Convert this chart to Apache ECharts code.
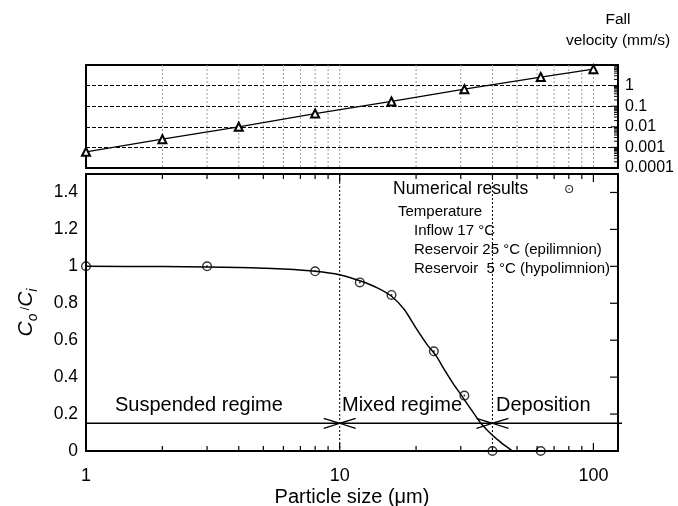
<!DOCTYPE html>
<html>
<head>
<meta charset="utf-8">
<script src="https://cdn.jsdelivr.net/npm/echarts@6/dist/echarts.min.js"></script>
<style>
html, body { margin: 0; padding: 0; background: #fff; }
#chart { width: 678px; height: 506px; }
</style>
</head>
<body>
<div id="chart"></div>
<script>
// Upper panel: fall velocity (mm/s) against particle size (µm)
const velocitySizes = [1, 2, 4, 8, 16, 31, 62, 100];
const fallVelocity = [0.00061, 0.0025, 0.01, 0.044, 0.17, 0.67, 2.6, 6.3];

// Lower panel: fitted outflow/inflow concentration ratio
const curveSizes = [1, 2, 3, 4, 5, 6, 8, 10, 12, 14, 16, 18, 20, 22, 24, 26, 28, 30, 32, 34, 36, 38, 40, 42, 44, 46, 48];
const curveRatio = [1.0, 0.999, 0.997, 0.994, 0.99, 0.986, 0.974, 0.955, 0.922, 0.885, 0.838, 0.765, 0.665, 0.58, 0.515, 0.435, 0.365, 0.307, 0.25, 0.198, 0.15, 0.115, 0.085, 0.06, 0.037, 0.018, 0.0];

// Numerical results
const resultSizes = [1, 3, 8, 12, 16, 23.5, 31, 40, 62];
const resultRatio = [1.0, 1.0, 0.973, 0.913, 0.845, 0.54, 0.30, 0.0, 0.0];

// Regime boundaries (µm) and the level of the regime arrows
const regimeBounds = [10, 40];
const arrowLevel = 0.15;

// Tick positions
const sizeTicks = [2, 3, 4, 5, 6, 7, 8, 9, 10, 20, 30, 40, 50, 60, 70, 80, 90, 100];
const ratioTicks = [0.2, 0.4, 0.6, 0.8, 1.0, 1.2, 1.4];
const velocityDecades = [0.0001, 0.001, 0.01, 0.1, 1];
const velocityMantissas = [1, 2, 3, 4, 5, 6, 7, 8, 9];

const FONT = "'Liberation Sans', Arial, Helvetica, sans-serif";
const ringSymbol = 'path://M50,0 A50,50 0 1,1 50,100 A50,50 0 1,1 50,0 Z M50,14 A36,36 0 1,0 50,86 A36,36 0 1,0 50,14 Z M50,40 A10,10 0 1,1 50,60 A10,10 0 1,1 50,40 Z';

const zip = (a, b) => a.map((v, i) => [v, b[i]]);
const isDecade = v => { const l = Math.log10(v); return Math.abs(l - Math.round(l)) < 1e-6; };

const velocityTicks = [];
velocityDecades.forEach(d => velocityMantissas.forEach(m => {
  const v = d * m;
  if (v > 0.0001 && v < 10) velocityTicks.push(v);
}));

function sizeLabel(v) {
  return isDecade(v) ? String(Math.round(v)) : '';
}
function velocityLabel(v) {
  if (!isDecade(v)) return '';
  const e = Math.round(Math.log10(v));
  if (e > 0) return '';
  return e === 0 ? '1' : Math.pow(10, e).toFixed(-e);
}
function ratioLabel(v) {
  if (Math.abs(v * 5 - Math.round(v * 5)) > 1e-6) return '';
  return String(Math.round(v * 10) / 10);
}

const line = (x1, y1, x2, y2, style) => ({ type: 'line', shape: { x1, y1, x2, y2 }, style: Object.assign({ stroke: '#000', lineWidth: 1 }, style) });

// Vertical dashed grid of the upper panel
function topGridRender(params, api) {
  const cs = params.coordSys;
  const x = api.coord([api.value(0), 1])[0];
  return line(x, cs.y, x, cs.y + cs.height, { stroke: '#9a9a9a', lineDash: [2, 2] });
}
// Log minor/major ticks along the right edge of the upper panel
function velocityTickRender(params, api) {
  const cs = params.coordSys;
  const v = api.value(1);
  const y = api.coord([1, v])[1];
  const len = isDecade(v) ? 7 : 4;
  const xr = cs.x + cs.width;
  return line(xr, y, xr - len, y, { lineWidth: 1 });
}
// Size ticks along bottom and top of the lower panel
function sizeTickRender(params, api) {
  const cs = params.coordSys;
  const v = api.value(0);
  const x = api.coord([v, 0.5])[0];
  const len = isDecade(v) ? 8 : 5;
  const yb = cs.y + cs.height, yt = cs.y;
  return { type: 'group', children: [
    line(x, yb, x, yb - len, { lineWidth: 1.2 }),
    line(x, yt, x, yt + len, { lineWidth: 1.2 })
  ] };
}
// Ratio ticks along the right edge of the lower panel
function ratioTickRender(params, api) {
  const cs = params.coordSys;
  const y = api.coord([1, api.value(1)])[1];
  const xr = cs.x + cs.width;
  return line(xr, y, xr - 8, y, { lineWidth: 1.2 });
}
// Dotted regime boundaries
function boundRender(params, api) {
  const cs = params.coordSys;
  const x = api.coord([api.value(0), 0.5])[0];
  return line(x, cs.y, x, cs.y + cs.height, { lineDash: [2, 2], lineWidth: 1 });
}
// Regime arrows meeting at each boundary
function arrowRender(params, api) {
  const cs = params.coordSys;
  const p = api.coord([api.value(0), api.value(1)]);
  const children = [];
  if (params.dataIndex === 0) {
    children.push(line(cs.x, p[1], cs.x + cs.width + 4, p[1], { lineWidth: 1.6 }));
  }
  const L = 16, H = 5;
  children.push({ type: 'polyline', shape: { points: [[p[0] - L, p[1] - H], [p[0], p[1]], [p[0] - L, p[1] + H]] }, style: { stroke: '#000', fill: null, lineWidth: 1.3 } });
  children.push({ type: 'polyline', shape: { points: [[p[0] + L, p[1] - H], [p[0], p[1]], [p[0] + L, p[1] + H]] }, style: { stroke: '#000', fill: null, lineWidth: 1.3 } });
  return { type: 'group', children };
}

const chart = echarts.init(document.getElementById('chart'), null, { renderer: 'canvas' });

const labelStyle = { color: '#000', fontFamily: FONT };

chart.setOption({
  backgroundColor: '#fff',
  animation: false,
  textStyle: { fontFamily: FONT, color: '#000' },
  grid: [
    { left: 86, top: 65, width: 532, height: 103, show: true, borderColor: '#000', borderWidth: 2, backgroundColor: 'transparent', outerBoundsMode: 'none', containLabel: false },
    { left: 86, top: 174, width: 532, height: 277, show: true, borderColor: '#000', borderWidth: 2, backgroundColor: 'transparent', outerBoundsMode: 'none', containLabel: false }
  ],
  xAxis: [
    { gridIndex: 0, type: 'log', logBase: 10, min: 1, max: 125,
      axisLine: { show: false }, axisTick: { show: false }, axisLabel: { show: false }, splitLine: { show: false } },
    { gridIndex: 1, type: 'log', logBase: 10, min: 1, max: 125,
      axisLine: { show: false }, axisTick: { show: false }, splitLine: { show: false },
      axisLabel: Object.assign({ margin: 16, fontSize: 18, formatter: sizeLabel, showMaxLabel: false }, labelStyle),
      name: 'Particle size (\u03bcm)', nameLocation: 'middle', nameGap: 36, nameMoveOverlap: false,
      nameTextStyle: Object.assign({ fontSize: 20 }, labelStyle) }
  ],
  yAxis: [
    { gridIndex: 0, type: 'log', logBase: 10, min: 0.0001, max: 10, position: 'right',
      axisLine: { show: false }, axisTick: { show: false },
      splitLine: { show: true, lineStyle: { color: '#000', type: [4, 2], width: 1 } },
      axisLabel: Object.assign({ margin: 7, fontSize: 16, formatter: velocityLabel }, labelStyle),
      name: 'Fall\nvelocity (mm/s)', nameLocation: 'end', nameGap: 14, nameMoveOverlap: false,
      nameTextStyle: Object.assign({ fontSize: 15.5, lineHeight: 21, align: 'center', verticalAlign: 'bottom' }, labelStyle) },
    { gridIndex: 1, type: 'value', min: 0, max: 1.5, interval: 0.2,
      axisLine: { show: false }, axisTick: { show: false }, splitLine: { show: false },
      axisLabel: Object.assign({ margin: 8, fontSize: 17.5, formatter: ratioLabel }, labelStyle),
      name: '{c|C}{s|o} /{c|C}{s|i}', nameLocation: 'middle', nameGap: 46, nameRotate: 90, nameMoveOverlap: false,
      nameTextStyle: {
        color: '#000', fontFamily: FONT,
        rich: {
          c: { fontSize: 21, fontStyle: 'italic', fontFamily: FONT, color: '#000', lineHeight: 28, verticalAlign: 'middle' },
          s: { fontSize: 14, fontStyle: 'italic', fontFamily: FONT, color: '#000', lineHeight: 14, verticalAlign: 'bottom' }
        }
      } }
  ],
  legend: {
    data: [{ name: 'Numerical results', icon: ringSymbol }],
    left: 393, top: 180, align: 'right', orient: 'vertical',
    itemWidth: 8, itemHeight: 8, padding: 0, selectedMode: false,
    textStyle: { fontSize: 17.5, color: '#000', fontFamily: FONT, padding: [0, 32, 0, 0] }
  },
  graphic: [
    { type: 'text', x: 398, y: 212, silent: true, style: { text: 'Temperature', fontSize: 15, fontFamily: FONT, fill: '#000', verticalAlign: 'middle' } },
    { type: 'text', x: 414, y: 231, silent: true, style: { text: 'Inflow 17 \u00b0C', fontSize: 15, fontFamily: FONT, fill: '#000', verticalAlign: 'middle' } },
    { type: 'text', x: 414, y: 250, silent: true, style: { text: 'Reservoir 25 \u00b0C (epilimnion)', fontSize: 15, fontFamily: FONT, fill: '#000', verticalAlign: 'middle' } },
    { type: 'text', x: 414, y: 269, silent: true, style: { text: 'Reservoir  5 \u00b0C (hypolimnion)', fontSize: 15, fontFamily: FONT, fill: '#000', verticalAlign: 'middle' } },
    { type: 'text', x: 115, y: 405, silent: true, style: { text: 'Suspended regime', fontSize: 20, fontFamily: FONT, fill: '#000', verticalAlign: 'middle' } },
    { type: 'text', x: 342, y: 405, silent: true, style: { text: 'Mixed regime', fontSize: 20, fontFamily: FONT, fill: '#000', verticalAlign: 'middle' } },
    { type: 'text', x: 496, y: 405, silent: true, style: { text: 'Deposition', fontSize: 20, fontFamily: FONT, fill: '#000', verticalAlign: 'middle' } }
  ],
  series: [
    { type: 'custom', name: 'topGrid', xAxisIndex: 0, yAxisIndex: 0, silent: true, z: 1,
      data: sizeTicks.map(v => [v, 1]), encode: { x: 0, y: 1 }, renderItem: topGridRender },
    { type: 'custom', name: 'velocityTicks', xAxisIndex: 0, yAxisIndex: 0, silent: true, z: 3,
      data: velocityTicks.map(v => [1, v]), encode: { x: 0, y: 1 }, renderItem: velocityTickRender },
    { type: 'line', name: 'Fall velocity', xAxisIndex: 0, yAxisIndex: 0, z: 5,
      data: zip(velocitySizes, fallVelocity),
      symbol: 'emptyTriangle', symbolSize: 8,
      lineStyle: { color: '#000', width: 1.2 },
      itemStyle: { color: '#000', borderColor: '#000', borderWidth: 1 } },
    { type: 'custom', name: 'sizeTicks', xAxisIndex: 1, yAxisIndex: 1, silent: true, z: 3,
      data: sizeTicks.map(v => [v, 0.5]), encode: { x: 0, y: 1 }, renderItem: sizeTickRender },
    { type: 'custom', name: 'ratioTicks', xAxisIndex: 1, yAxisIndex: 1, silent: true, z: 3,
      data: ratioTicks.map(v => [1, v]), encode: { x: 0, y: 1 }, renderItem: ratioTickRender },
    { type: 'custom', name: 'bounds', xAxisIndex: 1, yAxisIndex: 1, silent: true, z: 2,
      data: regimeBounds.map(v => [v, 0.5]), encode: { x: 0, y: 1 }, renderItem: boundRender },
    { type: 'custom', name: 'arrows', xAxisIndex: 1, yAxisIndex: 1, silent: true, z: 4, clip: false,
      data: regimeBounds.map(v => [v, arrowLevel]), encode: { x: 0, y: 1 }, renderItem: arrowRender },
    { type: 'line', name: 'Fit', xAxisIndex: 1, yAxisIndex: 1, z: 5,
      data: zip(curveSizes, curveRatio), showSymbol: false, smooth: 0.2,
      lineStyle: { color: '#000', width: 1.5 } },
    { type: 'scatter', name: 'Numerical results', xAxisIndex: 1, yAxisIndex: 1, z: 6,
      data: zip(resultSizes, resultRatio), symbol: ringSymbol, symbolSize: 10,
      itemStyle: { color: '#000' } }
  ]
});
</script>
</body>
</html>
